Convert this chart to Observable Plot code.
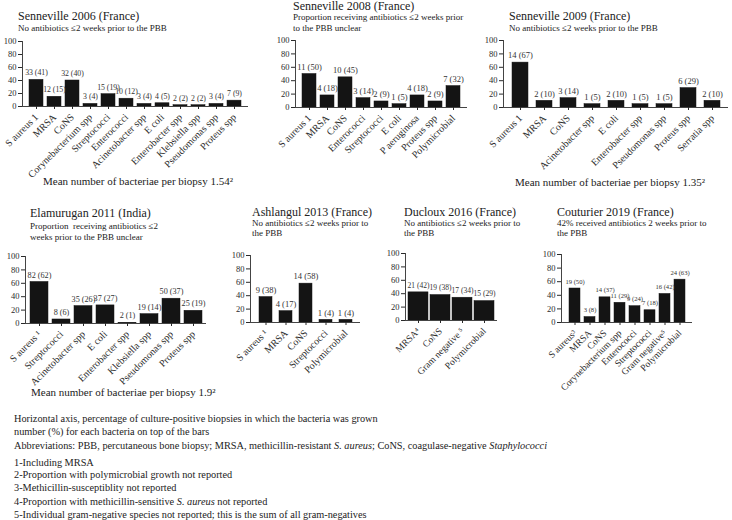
<!DOCTYPE html>
<html><head><meta charset="utf-8">
<script src="https://cdn.jsdelivr.net/npm/d3@7"></script>
<script src="https://cdn.jsdelivr.net/npm/@observablehq/plot@0.6"></script>
<style>
body{margin:0;background:#fff;}
#root{position:relative;width:732px;height:520px;overflow:hidden;font-family:"Liberation Serif",serif;color:#222;}
.t{position:absolute;white-space:nowrap;line-height:1;}
</style></head><body><div id="root"></div>
<script>
// ---- data ----
const s2006Cats = ["S aureus 1","MRSA","CoNS","Corynebacterium spp","Streptococci","Enterococci","Acinetobacter spp","E coli","Enterobacter spp","Klebsiella spp","Pseudomonas spp","Proteus spp"];
const s2006N    = [33,12,32,3,15,10,3,4,2,2,3,7];
const s2006Pct  = [41,15,40,4,19,12,4,5,2,2,4,9];

const s2008Cats = ["S aureus 1","MRSA","CoNS","Enterococci","Streptococci","E coli","P aeruginosa","Proteus spp","Polymicrobial"];
const s2008N    = [11,4,10,3,2,1,4,2,7];
const s2008Pct  = [50,18,45,14,9,5,18,9,32];

const s2009Cats = ["S aureus 1","MRSA","CoNS","Acinetobacter spp","E coli","Enterobacter spp","Pseudomonas spp","Proteus spp","Serratia spp"];
const s2009N    = [14,2,3,1,2,1,1,6,2];
const s2009Pct  = [67,10,14,5,10,5,5,29,10];

const e2011Cats = ["S aureus \u00b9","Streptococci","Acinetobacter spp","E coli","Enterobacter spp","Klebsiella spp","Pseudomonas spp","Proteus spp"];
const e2011N    = [82,8,35,37,2,19,50,25];
const e2011Pct  = [62,6,26,27,1,14,37,19];

const a2013Cats = ["S aureus \u00b9","MRSA","CoNS","Streptococci","Polymicrobial"];
const a2013N    = [9,4,14,1,1];
const a2013Pct  = [38,17,58,4,4];

const d2016Cats = ["MRSA\u2074","CoNS","Gram negative \u2075","Polymicrobial"];
const d2016N    = [21,19,17,15];
const d2016Pct  = [42,38,34,29];

const c2019Cats = ["S aureus\u00b3","MRSA","CoNS","Corynebacterium spp","Enterococci","Streptococci","Gram negative\u2075","Polymicrobial"];
const c2019N    = [19,3,14,11,9,7,16,24];
const c2019Pct  = [50,8,37,29,24,18,42,63];

const yTicks = [0,20,40,60,80,100];

// ---- drawing ----
const root = document.getElementById("root");
const FONT = '"Liberation Serif", "DejaVu Serif", serif';

function addText(html, x, baseline, fs, extra) {
  const d = document.createElement("div");
  d.className = "t";
  d.innerHTML = html;
  d.style.left = x + "px";
  d.style.top = (baseline - 0.84 * fs) + "px";
  d.style.fontSize = fs + "px";
  if (extra) Object.assign(d.style, extra);
  root.appendChild(d);
}

function panel(cats, n, pct, L) {
  const data = cats.map((c, i) => ({cat: c, pct: pct[i], label: `${n[i]} (${pct[i]})`}));
  const mL = 30, mR = 10, mT = 20, mB = 110;
  const width = (L.x1 - L.x0) + mL + mR;
  const height = (L.y0 - L.y100) + mT + mB;
  const svg = Plot.plot({
    width, height,
    marginLeft: mL, marginRight: mR, marginTop: mT, marginBottom: mB,
    style: {fontFamily: FONT, color: "#2a2a2a", background: "transparent", overflow: "visible"},
    x: {domain: cats, padding: L.padding, label: null},
    y: {domain: [0, 100], label: null},
    marks: [
      Plot.barY(data, {x: "cat", y: "pct", fill: "#141414", stroke: "#141414", strokeWidth: 0.5}),
      Plot.text(data, {x: "cat", y: "pct", text: "label", dy: -7, fontSize: L.valueSize, fill: "#333"}),
      Plot.ruleY([0], {stroke: "#444"}),
      Plot.frame({anchor: "left", stroke: "#444"}),
      Plot.axisY({ticks: yTicks, tickSize: 4, tickPadding: 2, fontSize: 8.5, label: null}),
      Plot.axisX({tickRotate: -45, tickSize: 3, tickPadding: 6, fontSize: L.labelSize, label: null})
    ]
  });
  svg.style.position = "absolute";
  svg.style.left = (L.x0 - mL) + "px";
  svg.style.top = (L.y100 - mT) + "px";
  root.appendChild(svg);
}

panel(s2006Cats, s2006N, s2006Pct, {x0: 22, x1: 248, y100: 41, y0: 106, padding: 0.2, valueSize: 7.8, labelSize: 10});
panel(s2008Cats, s2008N, s2008Pct, {x0: 295, x1: 467, y100: 40, y0: 107, padding: 0.2, valueSize: 8.5, labelSize: 10});
panel(s2009Cats, s2009N, s2009Pct, {x0: 503, x1: 728, y100: 40, y0: 107, padding: 0.35, valueSize: 8.5, labelSize: 10});
panel(e2011Cats, e2011N, e2011Pct, {x0: 25, x1: 206, y100: 256, y0: 323, padding: 0.2, valueSize: 8.2, labelSize: 10});
panel(a2013Cats, a2013N, a2013Pct, {x0: 250, x1: 360, y100: 255, y0: 322, padding: 0.37, valueSize: 8.5, labelSize: 10});
panel(d2016Cats, d2016N, d2016Pct, {x0: 405, x1: 497, y100: 253, y0: 320, padding: 0.1, valueSize: 7.5, labelSize: 9.5});
panel(c2019Cats, c2019N, c2019Pct, {x0: 561, x1: 692, y100: 254, y0: 322, padding: 0.3, valueSize: 6.6, labelSize: 9.5});

// titles & subtitles
addText("Senneville 2006 (France)", 18, 20, 12);
addText("No antibiotics \u22642 weeks prior to the PBB", 18, 32, 9);
addText("Senneville 2008 (France)", 293, 10, 12);
addText("Proportion receiving antibiotics \u22642 weeks prior", 293, 21, 9);
addText("to the PBB unclear", 293, 32, 9);
addText("Senneville 2009 (France)", 509, 20, 12);
addText("No antibiotics \u22642 weeks prior to the PBB", 509, 32, 9);
addText("Elamurugan 2011 (India)", 30, 217, 12);
addText("Proportion&nbsp; receiving antibiotics \u22642", 30, 230, 9);
addText("weeks prior to the PBB unclear", 30, 241, 9);
addText("Ashlangul 2013 (France)", 252, 216, 12);
addText("No antibiotics \u22642 weeks prior to", 252, 227, 9);
addText("the PBB", 252, 237, 9);
addText("Ducloux 2016 (France)", 404, 216, 12);
addText("No antibiotics \u22642 weeks prior to", 404, 227, 9);
addText("the PBB", 404, 237, 9);
addText("Couturier 2019 (France)", 557, 216, 12);
addText("42% received antibiotics 2 weeks prior to", 557, 227, 9);
addText("the PBB", 557, 237, 9);

// mean notes
addText("Mean number of bacteriae per biopsy 1.54\u00b2", 43, 185, 11);
addText("Mean number of bacteriae per biopsy 1.35\u00b2", 515, 186, 11);
addText("Mean number of bacteriae per biopsy 1.9\u00b2", 31, 396, 11);

// footnotes
const notes = [
  ["Horizontal axis, percentage of culture-positive biopsies in which the bacteria was grown", 423],
  ["number (%) for each bacteria on top of the bars", 436],
  ["Abbreviations: PBB, percutaneous bone biopsy; MRSA, methicillin-resistant <i>S. aureus</i>; CoNS, coagulase-negative <i>Staphylococci</i>", 450],
  ["1-Including MRSA", 467],
  ["2-Proportion with polymicrobial growth not reported", 479],
  ["3-Methicillin-susceptiblity not reported", 492],
  ["4-Proportion with methicillin-sensitive <i>S. aureus</i> not reported", 506],
  ["5-Individual gram-negative species not reported; this is the sum of all gram-negatives", 519]
];
notes.forEach(([t, b]) => addText(t, 14, b, 10.3));
</script>
</body></html>
